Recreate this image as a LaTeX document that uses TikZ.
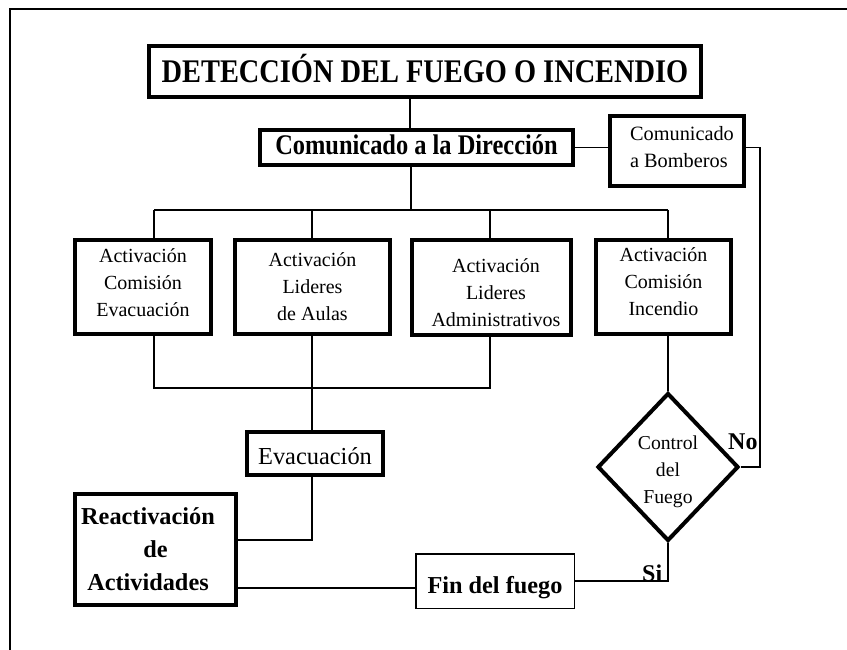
\documentclass[tikz,border=0pt]{standalone}
\usepackage{fontspec}
\setmainfont{Liberation Serif}
\newfontfamily\condserif[FakeStretch=0.86]{Liberation Serif}
\usetikzlibrary{shapes.geometric}
\begin{document}
\begin{tikzpicture}[x=1pt,y=-1pt,
  thickbox/.style={draw, rectangle, line width=4pt, inner sep=0pt, align=center},
  thinbox/.style={draw, rectangle, line width=1.5pt, inner sep=0pt, align=center},
  conn/.style={line width=1.3pt},
  actfont/.style={font=\fontsize{20}{27}\selectfont},
  lbl/.style={inner sep=0pt, anchor=base west, font=\bfseries\fontsize{24}{28}\selectfont}]
\useasboundingbox (0,0) rectangle (847,650);
% frame
\draw[line width=2pt] (9.5,650) -- (9.5,9) -- (847,9);
% nodes
\node[thickbox, minimum width=552pt, minimum height=51pt, text height=23pt, text depth=0pt,
  font=\condserif\bfseries\fontsize{33}{36}\selectfont] (title) at (425,71.5)
  {DETECCIÓN DEL FUEGO O INCENDIO};
\node[thickbox, minimum width=313pt, minimum height=35pt, text height=13.6pt, text depth=0pt,
  font=\condserif\bfseries\fontsize{28.4}{32}\selectfont] (dir) at (416.5,147.5)
  {Comunicado a la Dirección};
\node[thickbox, align=left, minimum width=134pt, minimum height=70pt,
  font=\fontsize{20.3}{27}\selectfont] (bomb) at (677,151)
  {\hspace*{10pt}Comunicado\\\hspace*{10pt}a Bomberos\rule[-8.9pt]{0pt}{8.9pt}};
\node[thickbox, actfont, minimum width=136pt, minimum height=94pt] (b1) at (143,287)
  {Activación\\Comisión\\Evacuación\rule[-8.6pt]{0pt}{8.6pt}};
\node[thickbox, actfont, minimum width=155pt, minimum height=94pt] (b2) at (312.5,287)
  {Activación\\Lideres\\de Aulas};
\node[thickbox, actfont, minimum width=159pt, minimum height=95pt] (b3) at (491.5,287.5)
  {\hspace*{9pt}Activación\rule{0pt}{24.4pt}\\\hspace*{9pt}Lideres\\\hspace*{9pt}Administrativos};
\node[thickbox, actfont, minimum width=135pt, minimum height=94pt] (b4) at (663.5,287)
  {Activación\\Comisión\\Incendio\rule[-10.6pt]{0pt}{10.6pt}};
\node[thickbox, minimum width=136pt, minimum height=43pt, text height=21pt, text depth=0pt,
  font=\fontsize{24.4}{28}\selectfont] (evac) at (315,453.5) {Evacuación};
\node[thickbox, minimum width=161pt, minimum height=111pt,
  font=\bfseries\fontsize{24.3}{33}\selectfont] (react) at (155.5,549.5)
  {Reactivación\hspace*{15pt}\\de\hspace*{15pt}\\Actividades\hspace*{15pt}};
\node[thinbox, minimum width=158.5pt, minimum height=54.5pt, text height=24pt, text depth=0pt,
  font=\bfseries\fontsize{24.3}{28}\selectfont] (fin) at (495,581) {Fin del fuego};
\node[draw, diamond, line width=4pt, inner sep=0pt, align=center,
  minimum width=141pt, minimum height=148pt, font=\fontsize{19.7}{27}\selectfont] (dia) at (668,467)
  {Control\rule{0pt}{22.3pt}\\del\\Fuego};
\node[lbl] (no) at (728,449) {No};
\node[lbl] (si) at (642,581) {Si};
% helper coordinates
\coordinate (tl) at (410,0);
\coordinate (kd) at (411,210);
\coordinate (k1) at (154,210);
\coordinate (k2) at (312,210);
\coordinate (k3) at (490,210);
\coordinate (k4) at (668,210);
\coordinate (m1) at (154,388);
\coordinate (m3) at (490,388);
\coordinate (e1) at (312,540);
\coordinate (r1) at (0,588);
\coordinate (f1) at (668,581);
\coordinate (n1) at (760,0);
% connectors
\draw[conn] (title.south -| tl) -- (dir.north -| tl);
\draw[conn] (dir.south -| kd) -- (kd);
\draw[conn] (k1) -- (k4);
\draw[conn] (k1) -- (b1.north -| k1);
\draw[conn] (k2) -- (b2.north -| k2);
\draw[conn] (k3) -- (b3.north -| k3);
\draw[conn] (k4) -- (b4.north -| k4);
\draw[conn] (b1.south -| m1) -- (m1) -- (m3) -- (b3.south -| m3);
\draw[conn] (b2.south -| k2) -- (evac.north -| k2);
\draw[conn] (evac.south -| e1) -- (e1) -- (react.east |- e1);
\draw[conn] (react.east |- r1) -- (fin.west |- r1);
\draw[conn] (fin.east |- f1) -- (f1) -- (dia.south);
\draw[conn] (b4.south -| k4) -- (dia.north);
\draw[conn] (dir.east) -- (bomb.west |- dir.east);
\draw[conn] (bomb.east |- dir.east) -- (dir.east -| n1) -- (dia.east -| n1) -- (dia.east);
\end{tikzpicture}
\end{document}
